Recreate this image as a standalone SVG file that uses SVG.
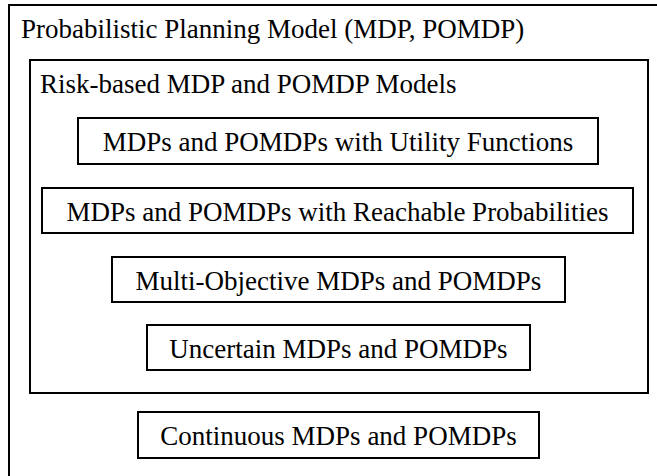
<svg xmlns="http://www.w3.org/2000/svg" width="657" height="476" viewBox="0 0 657 476">
  <defs>
    <style>
      .frame { fill: none; stroke: #000; stroke-width: 2; }
      .box { fill: #fff; stroke: #000; stroke-width: 2; }
    </style>
  </defs>
  <rect width="657" height="476" fill="#fff"/>

  <!-- outermost container: runs off the right and bottom edges -->
  <g id="node-planning-model">
    <rect class="frame" x="9" y="5" width="680" height="500"/>
    <text x="21" y="37.5" font-family="Liberation Serif" font-size="27">Probabilistic Planning Model (MDP, POMDP)</text>
  </g>

  <!-- risk-based sub-family -->
  <g id="node-risk-based">
    <rect class="frame" x="30" y="60" width="618" height="333"/>
    <text x="40" y="92.5" font-family="Liberation Serif" font-size="27">Risk-based MDP and POMDP Models</text>
  </g>

  <g id="node-utility">
    <rect class="box" x="78" y="118" width="520" height="46"/>
    <text x="338" y="150.5" text-anchor="middle" font-family="Liberation Serif" font-size="27">MDPs and POMDPs with Utility Functions</text>
  </g>

  <g id="node-reachable">
    <rect class="box" x="42" y="188" width="591" height="45"/>
    <text x="337.5" y="220.5" text-anchor="middle" font-family="Liberation Serif" font-size="27">MDPs and POMDPs with Reachable Probabilities</text>
  </g>

  <g id="node-multi-objective">
    <rect class="box" x="112" y="257" width="453" height="45"/>
    <text x="338.5" y="289.5" text-anchor="middle" font-family="Liberation Serif" font-size="27">Multi-Objective MDPs and POMDPs</text>
  </g>

  <g id="node-uncertain">
    <rect class="box" x="147" y="325" width="383" height="45"/>
    <text x="338.5" y="357.5" text-anchor="middle" font-family="Liberation Serif" font-size="27">Uncertain MDPs and POMDPs</text>
  </g>

  <g id="node-continuous">
    <rect class="box" x="138" y="412" width="401" height="46"/>
    <text x="338.5" y="444.5" text-anchor="middle" font-family="Liberation Serif" font-size="27">Continuous MDPs and POMDPs</text>
  </g>

  <g id="edges"></g>
</svg>
